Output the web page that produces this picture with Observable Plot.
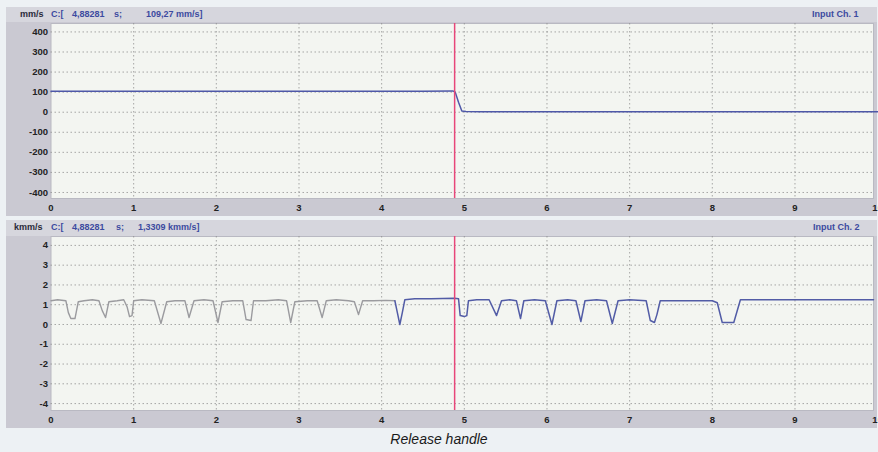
<!DOCTYPE html>
<html>
<head>
<meta charset="utf-8">
<script src="https://cdn.jsdelivr.net/npm/d3@7"></script>
<script src="https://cdn.jsdelivr.net/npm/@observablehq/plot@0.6"></script>
<style>
  body { margin: 0; background: #edf1f4; font-family: "Liberation Sans", Arial, sans-serif; }
  #root { position: relative; width: 878px; height: 452px; overflow: hidden; background: #edf1f4; }
  .frame { position: absolute; left: 6px; width: 871px; background: #cac9d2; }
  .hdr { position: absolute; left: 6px; width: 871px; height: 15px; background: #d6d6dd; font-size: 9px; font-weight: bold; }
  .hdr span { position: absolute; top: 2px; white-space: pre; }
  .unit { color: #2a2a3a; }
  .blue { color: #3c4aa0; }
  .plot { position: absolute; left: 0; }
  #caption { position: absolute; left: 0; width: 878px; top: 431px; text-align: center; font-style: italic; font-size: 14px; color: #1a1a1a; }
  #cut { position: absolute; left: 4px; top: -14px; font-size: 15px; color: #222; }
</style>
</head>
<body>
<div id="root">
  <div id="cut">Measurement of</div>
  <div class="frame" style="top:7px;height:209px"></div>
  <div class="hdr" style="top:7px">
    <span class="unit" style="left:14px">mm/s</span>
    <span class="blue" style="left:45px">C:[</span>
    <span class="blue" style="left:66px">4,88281</span>
    <span class="blue" style="left:108px">s;</span>
    <span class="blue" style="left:140px">109,27 mm/s]</span>
    <span class="blue" style="left:806px">Input Ch. 1</span>
  </div>
  <div class="frame" style="top:220px;height:208px"></div>
  <div class="hdr" style="top:220px;height:16px">
    <span class="unit" style="left:8px">kmm/s</span>
    <span class="blue" style="left:45px">C:[</span>
    <span class="blue" style="left:66px">4,88281</span>
    <span class="blue" style="left:110px">s;</span>
    <span class="blue" style="left:132px">1,3309 kmm/s]</span>
    <span class="blue" style="left:807px">Input Ch. 2</span>
  </div>
  <div id="p1" class="plot" style="top:23px"></div>
  <div id="p2" class="plot" style="top:236px"></div>
  <div id="caption">Release handle</div>
</div>
<script>
// ---- data ----
const cursorT = 4.88281;
const xTicks = [0, 1, 2, 3, 4, 5, 6, 7, 8, 9, 10];
const y1Ticks = [-400, -300, -200, -100, 0, 100, 200, 300, 400];
const y2Ticks = [-4, -3, -2, -1, 0, 1, 2, 3, 4];

// Input Ch. 1 (mm/s)
const ch1T = [0, 4.5, 4.86, 4.89, 4.93, 4.97, 5.02, 5.2, 10];
const ch1V = [105, 105, 106, 100, 50, 6, 3, 2, 2];

// Input Ch. 2 (kmm/s), first part (grey)
const ch2aT = [0, 0.08, 0.18, 0.21, 0.24, 0.29, 0.33, 0.4, 0.5, 0.58, 0.62, 0.66, 0.7, 0.8, 0.88, 0.92, 0.95, 0.98, 1.0, 1.1, 1.25, 1.33, 1.4, 1.5, 1.62, 1.67, 1.73, 1.85, 1.96, 2.02, 2.07, 2.2, 2.32, 2.36, 2.42, 2.45, 2.6, 2.75, 2.85, 2.9, 2.95, 3.1, 3.22, 3.28, 3.33, 3.45, 3.6, 3.67, 3.72, 3.77, 3.9, 4.05, 4.16];
const ch2aV = [1.2, 1.25, 1.2, 0.6, 0.3, 0.3, 1.15, 1.2, 1.25, 1.2, 0.7, 0.35, 1.15, 1.2, 1.25, 0.9, 0.4, 0.45, 1.2, 1.25, 1.2, 0.05, 1.15, 1.2, 1.2, 0.35, 1.2, 1.25, 1.2, 0.1, 1.15, 1.2, 1.2, 0.25, 0.2, 1.2, 1.2, 1.25, 1.2, 0.1, 1.15, 1.2, 1.2, 0.35, 1.2, 1.25, 1.2, 1.15, 0.5, 1.2, 1.2, 1.22, 1.2];

// Input Ch. 2 (kmm/s), second part (blue)
const ch2bT = [4.16, 4.19, 4.22, 4.25, 4.28, 4.4, 4.6, 4.88, 4.93, 4.95, 5.0, 5.03, 5.05, 5.15, 5.3, 5.39, 5.45, 5.55, 5.63, 5.68, 5.72, 5.85, 5.98, 6.06, 6.12, 6.25, 6.35, 6.41, 6.46, 6.6, 6.72, 6.79, 6.86, 7.0, 7.2, 7.25, 7.3, 7.33, 7.37, 7.6, 8.0, 8.06, 8.12, 8.26, 8.34, 8.6, 9.0, 9.95];
const ch2bV = [1.2, 0.6, 0.0, 0.6, 1.25, 1.3, 1.3, 1.33, 1.3, 0.45, 0.4, 0.45, 1.2, 1.25, 1.25, 0.45, 1.2, 1.25, 1.2, 0.3, 1.2, 1.25, 1.2, 0.0, 1.2, 1.25, 1.2, 0.15, 1.2, 1.25, 1.2, 0.05, 1.2, 1.25, 1.2, 0.2, 0.1, 0.5, 1.2, 1.2, 1.2, 1.1, 0.1, 0.1, 1.25, 1.25, 1.25, 1.25];

// ---- style ----
const gridStyle = { stroke: "#8c8c8c", strokeOpacity: 0.75, strokeDasharray: "1.5,2.5", strokeWidth: 1 };
const axisFont = { fontSize: 9.5, fontWeight: "bold", fill: "#222" };
const common = {
  width: 878,
  marginLeft: 50.5,
  marginRight: 5,
  marginTop: 0,
  style: { background: "transparent", fontFamily: "'Liberation Sans', Arial, sans-serif", overflow: "visible" }
};

function panel(yDomain, yTicks, plotH, lines) {
  return Plot.plot({
    ...common,
    height: plotH + 18,
    marginBottom: 18,
    x: { domain: [0, 9.95] },
    y: { domain: yDomain },
    marks: [
      Plot.frame({ fill: "#f3f5f1", stroke: "#b9b9c2" }),
      Plot.gridX(xTicks.slice(1, 10), gridStyle),
      Plot.gridY(yTicks, gridStyle),
      Plot.axisX(xTicks, { tickSize: 0, tickPadding: 6, tickFormat: d => String(d), ...axisFont }),
      Plot.axisY(yTicks, { tickSize: 0, tickPadding: 3, tickFormat: d => String(d), ...axisFont }),
      ...lines,
      Plot.ruleX([cursorT], { stroke: "#e8467a", strokeWidth: 1.5 })
    ]
  });
}

const p1 = panel([-430, 442], y1Ticks, 175, [
  Plot.line(ch1T, { x: ch1T, y: ch1V, stroke: "#4e58a8", strokeWidth: 1.5 })
]);
document.getElementById("p1").appendChild(p1);

const p2 = panel([-4.35, 4.45], y2Ticks, 174, [
  Plot.line(ch2aT, { x: ch2aT, y: ch2aV, stroke: "#9b9b9f", strokeWidth: 1.4 }),
  Plot.line(ch2bT, { x: ch2bT, y: ch2bV, stroke: "#525ca6", strokeWidth: 1.5 })
]);
document.getElementById("p2").appendChild(p2);
</script>
</body>
</html>
